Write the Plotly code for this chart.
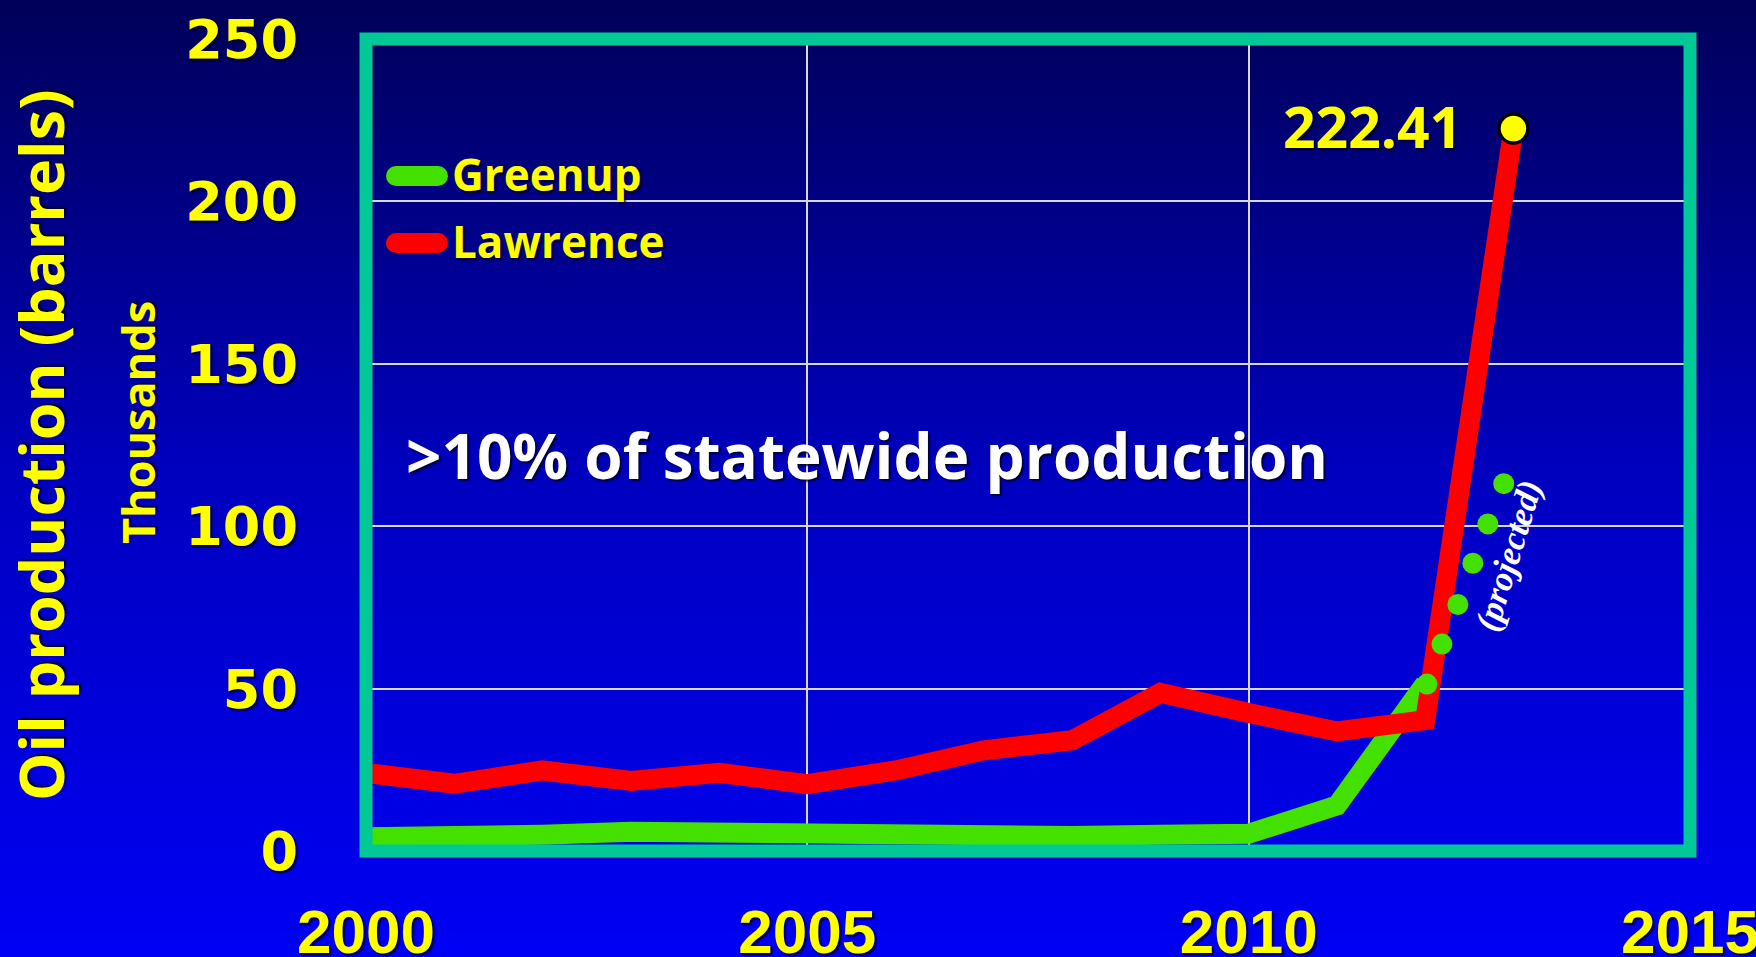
import plotly.graph_objects as go

# ---------------- data (thousands of barrels) ----------------
series_names = ["Greenup", "Lawrence"]
years = [2000, 2001, 2002, 2003, 2004, 2005, 2006, 2007, 2008, 2009, 2010, 2011, 2012, 2013]
lawrence = [24.0, 20.7, 24.8, 21.6, 24.1, 20.6, 24.8, 31.0, 34.1, 48.7, 42.5, 36.8, 40.3, 222.41]
greenup_years = [2000, 2001, 2002, 2003, 2004, 2005, 2006, 2007, 2008, 2009, 2010, 2011, 2012]
greenup = [4.2, 4.2, 5.0, 5.9, 5.4, 4.9, 4.8, 4.5, 4.6, 5.0, 5.3, 14.0, 51.5]
proj_years = [2012.02, 2012.19, 2012.37, 2012.54, 2012.71, 2012.89]
proj_values = [51.4, 63.7, 75.9, 88.6, 100.7, 113.1]
x_ticks = [2000, 2005, 2010, 2015]
y_ticks = [0, 50, 100, 150, 200, 250]

W, H = 1756, 957
L, R, T, B = 366, 66, 39, 106
PW, PH = W - L - R, H - T - B
BORDER = 13

GREEN = "#44E000"
RED = "#FF0000"
TEAL = "#00C896"
YELLOW = "#FFFF00"
SHADOW = "2px 2px 2px rgba(0,0,30,0.85)"
FONT = "Open Sans"

def px_x(px):
    return (px - L) / PW

def px_y(py):
    return (H - B - py) / PH

fig = go.Figure()

fig.add_trace(go.Scatter(x=greenup_years, y=greenup, mode="lines", name=series_names[0],
                         line=dict(color=GREEN, width=20), showlegend=False))
fig.add_trace(go.Scatter(x=years, y=lawrence, mode="lines", name=series_names[1],
                         line=dict(color=RED, width=20), showlegend=False))
fig.add_trace(go.Scatter(x=proj_years, y=proj_values, mode="markers", showlegend=False,
                         marker=dict(color=GREEN, size=21, line=dict(width=0))))
fig.add_trace(go.Scatter(x=[years[-1]], y=[lawrence[-1]], mode="markers", showlegend=False,
                         marker=dict(color=YELLOW, size=29, line=dict(color="black", width=3.5)),
                         cliponaxis=False))

# ---------------- background gradient ----------------
stops = [(0.0, (0, 0, 88)), (0.5, (0, 0, 192)), (1.0, (0, 0, 244))]
def col(t):
    for (a, ca), (b, cb) in zip(stops[:-1], stops[1:]):
        if a <= t <= b:
            f = (t - a) / (b - a)
            return "rgb(%d,%d,%d)" % tuple(round(ca[i] + (cb[i] - ca[i]) * f) for i in range(3))
    return "rgb(0,0,244)"

shapes = []
N = 120
for i in range(N):
    top_px = (H / N) * i - (2 if i == 0 else 0)
    bot_px = (H / N) * (i + 1) + (3 if i == N - 1 else 1)
    shapes.append(dict(type="rect", xref="paper", yref="paper",
                       x0=px_x(-2), x1=px_x(W + 2), y0=px_y(bot_px), y1=px_y(top_px),
                       fillcolor=col((i + 0.5) / N), line=dict(width=0), layer="below"))

# teal frame centred on the plot-area edges
shapes.append(dict(type="rect", xref="paper", yref="paper", x0=0, x1=1, y0=0, y1=1,
                   line=dict(color=TEAL, width=BORDER), layer="above"))

# ---------------- legend (drawn manually: thick round-capped keys) ----------------
legend_rows = [(series_names[0], GREEN, 176), (series_names[1], RED, 243)]
annotations = []
for name, c, py in legend_rows:
    shapes.append(dict(type="line", xref="paper", yref="paper",
                       x0=px_x(396), x1=px_x(438), y0=px_y(py), y1=px_y(py),
                       line=dict(color=c, width=20), layer="above"))
    for cx in (396, 438):
        shapes.append(dict(type="circle", xref="paper", yref="paper",
                           xsizemode="pixel", ysizemode="pixel",
                           xanchor=px_x(cx), yanchor=px_y(py),
                           x0=-10, x1=10, y0=-10, y1=10,
                           fillcolor=c, line=dict(width=0), layer="above"))
    annotations.append(dict(text=name, xref="paper", yref="paper", x=px_x(450), y=px_y(py),
                            xanchor="left", yanchor="middle", showarrow=False, yshift=2,
                            font=dict(family=FONT, size=44, color=YELLOW, weight="bold",
                                      shadow=SHADOW)))

annotations += [
    dict(text="Oil production (barrels)", xref="paper", yref="paper",
         x=px_x(40), y=px_y(445), textangle=-90, showarrow=False,
         xanchor="center", yanchor="middle",
         font=dict(family=FONT, size=61, color=YELLOW, weight="bold", shadow=SHADOW)),
    dict(text="Thousands", xref="paper", yref="paper",
         x=px_x(137), y=px_y(423), textangle=-90, showarrow=False,
         xanchor="center", yanchor="middle",
         font=dict(family=FONT, size=45, color=YELLOW, weight="bold", shadow=SHADOW)),
    dict(text=">10% of statewide production", xref="paper", yref="paper",
         x=px_x(404), y=px_y(455), showarrow=False,
         xanchor="left", yanchor="middle",
         font=dict(family=FONT, size=62, color="white", weight="bold", shadow=SHADOW)),
    dict(text="%.2f" % lawrence[-1], x=years[-1], y=lawrence[-1], xref="x", yref="y",
         showarrow=False, xanchor="right", yanchor="middle", xshift=-49, yshift=3,
         font=dict(family=FONT, size=57, color=YELLOW, weight="bold", shadow=SHADOW)),
    dict(text="<i>(projected)</i>", x=2012.94, y=90.8, xref="x", yref="y",
         showarrow=False, textangle=-73, xanchor="center", yanchor="middle",
         font=dict(family="Liberation Serif", size=35, color="white", weight="bold")),
]

fig.update_layout(
    width=W, height=H,
    margin=dict(l=L, r=R, t=T, b=B, autoexpand=False),
    paper_bgcolor="#0000C0",
    plot_bgcolor="rgba(0,0,0,0)",
    shapes=shapes,
    annotations=annotations,
    showlegend=False,
    xaxis=dict(range=[2000, 2015], tickvals=x_ticks,
               ticktext=[str(v) for v in x_ticks], automargin=False,
               ticklabeloverflow="allow",
               showgrid=True, gridcolor="#D8D8D8", gridwidth=2, zeroline=False,
               showline=False, ticks="", ticklabelstandoff=39,
               tickfont=dict(family="Liberation Sans", size=62, color=YELLOW, weight="bold",
                             shadow=SHADOW)),
    yaxis=dict(range=[0, 250], tickvals=y_ticks,
               ticktext=[str(v) for v in y_ticks], automargin=False,
               ticklabeloverflow="allow",
               showgrid=True, gridcolor="#D8D8D8", gridwidth=2, zeroline=False,
               showline=False, ticks="", ticklabelstandoff=67,
               tickfont=dict(family="DejaVu Sans", size=54, color=YELLOW, weight="bold",
                             shadow=SHADOW)),
)

fig.write_html("out.html")
